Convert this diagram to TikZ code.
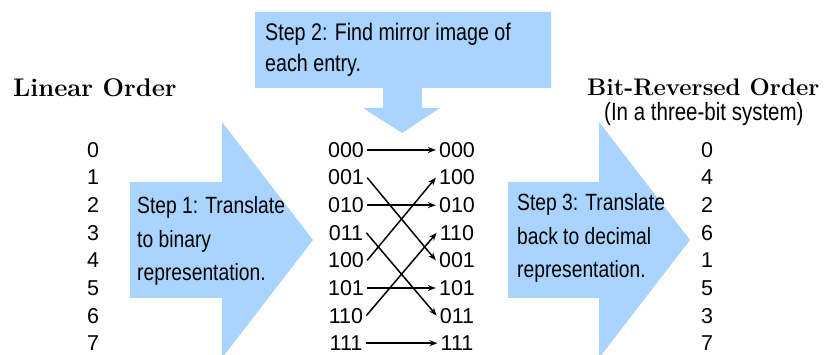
\documentclass[tikz,border=0pt]{standalone}
\usepackage{fontspec}
\usetikzlibrary{arrows.meta}
\newfontfamily\digitfont{Liberation Sans}
\newfontfamily\stepfont[FakeStretch=0.82]{Liberation Sans}
\definecolor{arrowblue}{RGB}{168,212,255}
\tikzset{
  bigarrow/.style={fill=arrowblue,draw=none},
  steptext/.style={anchor=base west,align=left,inner sep=0pt,font=\stepfont\fontsize{23.5}{33.5}\selectfont},
  title/.style={anchor=base west,inner sep=0pt,font=\bfseries\fontsize{25.5}{27}\selectfont},
  num/.style={inner sep=3pt,font=\digitfont\fontsize{21.5}{24}\selectfont},
  link/.style={->,line width=1.5pt}
}
\begin{document}
\begin{tikzpicture}[>={Stealth[length=8pt,width=6pt]},x=1pt,y=-1pt]
		\useasboundingbox (0,0) rectangle (830,355);
		% the three big arrows
		\fill[bigarrow] (255,12) -- (551,12) -- (551,88) -- (422,88) -- (422,108) -- (440,108) -- (402,133) -- (363,108) -- (383,108) -- (383,88) -- (255,88) -- cycle;
		\fill[bigarrow] (130,182) -- (222,182) -- (222,122) -- (313,240) -- (222,358) -- (222,298) -- (130,298) -- cycle;
		\fill[bigarrow] (508,182) -- (599,182) -- (599,122) -- (690,240) -- (599,358) -- (599,298) -- (508,298) -- cycle;
		% base is the last line of each text
		\node[steptext,font=\stepfont\fontsize{24}{31}\selectfont] (step2) at (265,72) {Step 2: Find mirror image of\\each entry.};
		\node[steptext] (step1) at (137,281) {Step 1: Translate\\to binary\\representation.};
		\node[steptext] (step3) at (517,278) {Step 3: Translate\\back to decimal\\representation.};
		% titles
		\node[title] (lintitle) at (13,97) {Linear Order};
		\node[title,font=\bfseries\fontsize{24}{26}\selectfont] (revtitle) at (587,96) {Bit-Reversed Order};
		\node[anchor=base west,inner sep=0pt,font=\stepfont\fontsize{25}{27}\selectfont] (revnote) at (604,121) {(In a three-bit system)};
		% linear order
		\node[num] (lin0) at (93,150) {0};
		\node[num] (lin1) at (93,177.6) {1};
		\node[num] (lin2) at (93,205.2) {2};
		\node[num] (lin3) at (93,232.8) {3};
		\node[num] (lin4) at (93,260.4) {4};
		\node[num] (lin5) at (93,288) {5};
		\node[num] (lin6) at (93,315.6) {6};
		\node[num] (lin7) at (93,343.2) {7};
		% binary
		\node[num] (bin0) at (346,150) {000};
		\node[num] (bin1) at (346,177.6) {001};
		\node[num] (bin2) at (346,205.2) {010};
		\node[num] (bin3) at (346,232.8) {011};
		\node[num] (bin4) at (346,260.4) {100};
		\node[num] (bin5) at (346,288) {101};
		\node[num] (bin6) at (346,315.6) {110};
		\node[num] (bin7) at (346,343.2) {111};
		% mirrored
		\node[num] (mir0) at (457,150) {000};
		\node[num] (mir1) at (457,177.6) {100};
		\node[num] (mir2) at (457,205.2) {010};
		\node[num] (mir3) at (457,232.8) {110};
		\node[num] (mir4) at (457,260.4) {001};
		\node[num] (mir5) at (457,288) {101};
		\node[num] (mir6) at (457,315.6) {011};
		\node[num] (mir7) at (457,343.2) {111};
		% bit-reversed order
		\node[num] (rev0) at (707,150) {0};
		\node[num] (rev1) at (707,177.6) {4};
		\node[num] (rev2) at (707,205.2) {2};
		\node[num] (rev3) at (707,232.8) {6};
		\node[num] (rev4) at (707,260.4) {1};
		\node[num] (rev5) at (707,288) {5};
		\node[num] (rev6) at (707,315.6) {3};
		\node[num] (rev7) at (707,343.2) {7};
		% mirror links
		\draw[link] (bin0.east) -- (mir0.west);
		\draw[link] (bin1.east) -- (mir4.west);
		\draw[link] (bin2.east) -- (mir2.west);
		\draw[link] (bin3.east) -- (mir6.west);
		\draw[link] (bin4.east) -- (mir1.west);
		\draw[link] (bin5.east) -- (mir5.west);
		\draw[link] (bin6.east) -- (mir3.west);
		\draw[link] (bin7.east) -- (mir7.west);
		\end{tikzpicture}
\end{document}
